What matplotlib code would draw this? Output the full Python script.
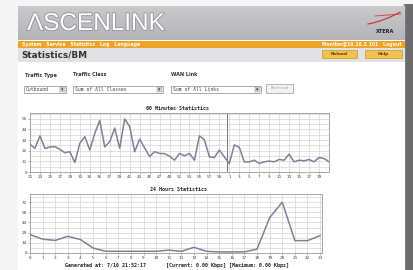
import matplotlib
matplotlib.use("Agg")
import matplotlib.pyplot as plt
import matplotlib.patheffects as pe
import matplotlib.colors as mcolors
from matplotlib.patches import Rectangle
import numpy as np

W, H = 413, 270

# ---------------- data ----------------
start_minute = 21
values_60 = [28.7, 24.5, 37.4, 24.5, 25.9, 26.2, 23.4, 19.9, 21.0, 9.8,
             29.7, 36.6, 22.7, 40.0, 53.4, 26.0, 31.4, 45.4, 24.5, 54.9,
             47.0, 21.0, 34.0, 25.0, 16.0, 21.0, 19.2, 19.0, 16.4, 12.2,
             19.2, 16.8, 19.2, 12.2, 37.4, 33.2, 15.7, 15.0, 22.7, 15.7,
             8.8, 28.0, 25.5, 10.5, 10.5, 12.2, 8.8, 10.5, 11.3, 10.5,
             13.0, 12.2, 18.5, 10.5, 12.2, 11.5, 13.0, 10.5, 15.0, 14.0,
             10.5]
hours = list(range(24))
values_24 = [26.0, 19.6, 17.8, 23.6, 19.0, 7.0, 2.4, 2.4, 2.4, 2.4,
             2.4, 4.0, 2.4, 8.0, 2.4, 1.5, 1.5, 1.5, 5.5, 50.0,
             72.0, 17.5, 17.5, 24.6]
max_60 = 55
max_24 = 72

nav_items = "System   Service   Statistics   Log   Language"
user_text = "Monitor@10.10.2.101   Logout"
form_labels = ["Traffic Type", "Traffic Class", "WAN Link"]
form_values = ["Outbound", "Sum of All Classes", "Sum of All Links"]
footer_left = "Generated at: 7/10 21:52:17"
footer_right = "[Current: 0.00 Kbps] [Maximum: 0.00 Kbps]"

# ---------------- figure ----------------
fig = plt.figure(figsize=(W / 100, H / 100), dpi=100)
fig.patch.set_facecolor("#f5f5f5")

bg = fig.add_axes([0, 0, 1, 1])
bg.set_xlim(0, W)
bg.set_ylim(H, 0)
bg.axis("off")

# shadow on right
for i, c in enumerate(["#c8c8c8", "#9a9a9a", "#7a7a7a"]):
    bg.add_patch(Rectangle((403 + i, 4), 1, H, color=c, lw=0))
bg.add_patch(Rectangle((406, 4), W - 406, H, color="#6c6c6c", lw=0))
# page
bg.add_patch(Rectangle((18, 6), 387, H, color="white", lw=0))
# header gradient
grad = np.linspace(0, 1, 64).reshape(-1, 1)
bg.imshow(grad, extent=(18, 405, 40, 6),
          cmap=mcolors.LinearSegmentedColormap.from_list("h", ["#cacace", "#b3b3b8"]),
          aspect="auto", zorder=1)
bg.set_xlim(0, W)
bg.set_ylim(H, 0)
bg.text(27, 24, "ΛSCENLINK", fontsize=17.5, color="white", fontweight="normal",
        family="Liberation Sans", va="center", ha="left", zorder=3,
        path_effects=[pe.withStroke(linewidth=1.4, foreground="#9a9aa0")])
# Xtera logo
t = np.linspace(0, 1, 30)
bg.plot(368 + 32 * t, 24 - 12 * t + 6 * t * (1 - t), color="#d23a3a", lw=0.9, zorder=3)
bg.plot(375 + 26 * t, 16 - 2 * t, color="#d23a3a", lw=0.6, zorder=3)
bg.text(385, 31.5, "XTERA", fontsize=3.6, color="#222222", fontweight="bold",
        ha="center", va="center", zorder=3)
# orange nav bar
bg.add_patch(Rectangle((18, 40.5), 387, 7.2, color="#f0a225", lw=0, zorder=2))
bg.text(22, 44.2, nav_items, fontsize=3.3, color="white", fontweight="bold",
        va="center", ha="left", zorder=3)
bg.text(401, 44.2, user_text, fontsize=3.3, color="white", fontweight="bold",
        va="center", ha="right", zorder=3)
# title bar
bg.add_patch(Rectangle((18, 47.7), 387, 14.3, color="#e2e2e4", lw=0, zorder=2))
bg.text(21.5, 55, "Statistics/BM", fontsize=6.4, color="#333333", fontweight="bold",
        va="center", ha="left", zorder=3)
for (x0, x1, lbl) in [(322, 357, "Reload"), (365, 402, "Help")]:
    bg.add_patch(Rectangle((x0, 49.5), x1 - x0, 8.6, facecolor="#f2c24a",
                           edgecolor="#b88a20", lw=0.4, zorder=3))
    bg.text((x0 + x1) / 2, 53.8, lbl, fontsize=3.2, color="#5a4010", fontweight="bold",
            ha="center", va="center", zorder=4)
# form
for x, lbl in zip([25, 73, 171], form_labels):
    bg.text(x, 75, lbl, fontsize=3.5, color="#333333", fontweight="bold",
            va="center", ha="left", zorder=3)
for (x0, x1), val in zip([(24, 66), (73, 163), (171, 261)], form_values):
    bg.add_patch(Rectangle((x0, 86), x1 - x0, 7, facecolor="white",
                           edgecolor="#8a8a8a", lw=0.5, zorder=3))
    bg.add_patch(Rectangle((x1 - 6, 87), 5, 5, facecolor="#d8d8d8",
                           edgecolor="#8a8a8a", lw=0.3, zorder=4))
    bg.text(x1 - 3.5, 89.5, "▾", fontsize=3.5, color="#333333", ha="center",
            va="center", zorder=5)
    bg.text(x0 + 2, 89.5, val, fontsize=3.4, color="#444444", family="DejaVu Sans Mono",
            va="center", ha="left", zorder=4)
bg.add_patch(Rectangle((266, 83.5), 27, 9, facecolor="#f2f2f2",
                       edgecolor="#9a9a9a", lw=0.5, zorder=3))
bg.text(279.5, 88, "Refresh", fontsize=3.2, color="#999999", ha="center", va="center",
        family="DejaVu Sans Mono", zorder=4)

# chart titles and footer
mono = "DejaVu Sans Mono"
bg.text(178, 108, "60 Minutes Statistics", fontsize=3.6, family=mono, fontweight="bold",
        color="#222222", ha="center", va="center", zorder=3)
bg.text(178, 189.5, "24 Hours Statistics", fontsize=3.6, family=mono, fontweight="bold",
        color="#222222", ha="center", va="center", zorder=3)
bg.text(65, 265, footer_left, fontsize=3.6, family=mono, fontweight="bold",
        color="#222222", ha="left", va="center", zorder=3)
bg.text(166, 265, footer_right, fontsize=3.6, family=mono, fontweight="bold",
        color="#222222", ha="left", va="center", zorder=3)


def rect(x0, y0, x1, y1):
    return [x0 / W, 1 - y1 / H, (x1 - x0) / W, (y1 - y0) / H]


def style(ax):
    ax.set_facecolor("white")
    for s in ax.spines.values():
        s.set_color("#9a9a9a")
        s.set_linewidth(0.6)
    ax.grid(True, which="both", color="#d4d4d4", lw=0.5)
    ax.set_axisbelow(True)
    ax.tick_params(which="both", length=1.2, width=0.4, color="#888888", pad=1,
                   labelsize=3.2, labelcolor="#444444")
    ax.tick_params(which="minor", length=0)
    for lab in ax.get_xticklabels() + ax.get_yticklabels():
        lab.set_family(mono)


# ---- 60 minute chart ----
ax1 = fig.add_axes(rect(30, 113, 329, 172))
x60 = np.arange(len(values_60))
ax1.plot(x60, values_60, color="#80809a", lw=1.1, solid_joinstyle="round", zorder=3)
ax1.set_xlim(0, len(values_60) - 1)
ax1.set_ylim(0, max_60 * 1.11)
xt = x60[:-1:2]
ax1.set_xticks(xt)
ax1.set_xticklabels([str((start_minute + i) % 60) for i in xt])
yt = [max_60 * k / 5 for k in range(6)]
ax1.set_yticks(yt)
ax1.set_yticklabels([f"{v:.0f}" for v in yt])
ax1.set_yticks([max_60 * k / 10 for k in range(12)], minor=True)
zero_idx = [i for i in x60 if (start_minute + i) % 60 == 0][0]
ax1.axvline(zero_idx + 0.5, color="#777777", lw=0.7, zorder=2)
style(ax1)

# ---- 24 hour chart ----
ax2 = fig.add_axes(rect(30, 194, 322, 253))
ax2.plot(hours, values_24, color="#80809a", lw=1.1, solid_joinstyle="round", zorder=3)
ax2.set_xlim(0, 23.15)
ax2.set_ylim(0, max_24 * 1.16)
ax2.set_xticks(hours)
yt2 = [max_24 * k / 5 for k in range(6)]
ax2.set_yticks(yt2)
ax2.set_yticklabels([f"{v:.0f}" for v in yt2])
ax2.set_yticks([max_24 * k / 10 for k in range(12)], minor=True)
style(ax2)

fig.savefig("out.png", dpi=100, facecolor=fig.get_facecolor())
